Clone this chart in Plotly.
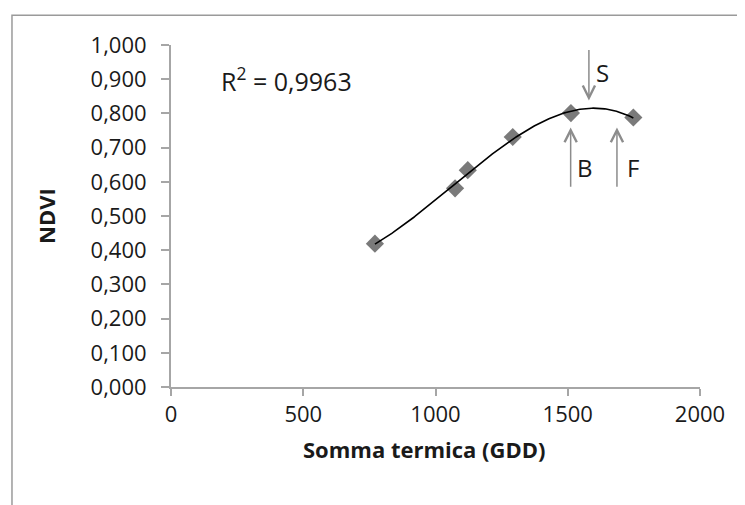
import numpy as np
import plotly.graph_objects as go

# Data
gdd = [771, 1074, 1122, 1292, 1512, 1748]
ndvi = [0.419, 0.581, 0.634, 0.731, 0.801, 0.788]
r2_label = "R<sup>2</sup> = 0,9963"

x_ticks = [0, 500, 1000, 1500, 2000]
x_ticklabels = ["0", "500", "1000", "1500", "2000"]
y_ticks = [i / 10 for i in range(11)]
y_ticklabels = ["0,000", "0,100", "0,200", "0,300", "0,400", "0,500",
                "0,600", "0,700", "0,800", "0,900", "1,000"]
x_title = "Somma termica (GDD)"
y_title = "NDVI"

# Phenological stage markers
stage_names = ["S", "B", "F"]
stage_x = [1580, 1511, 1686]
stage_tail = [0.990, 0.581, 0.581]
stage_tip = [0.838, 0.759, 0.759]
stage_label_x = [1633, 1565, 1747]
stage_label_y = [0.92, 0.642, 0.642]

# Third-order polynomial trendline
coef = np.polyfit(gdd, ndvi, 3)
xs = np.linspace(min(gdd), max(gdd), 200)
ys = np.polyval(coef, xs)

FONT = "Open Sans"
AX = "#a6a6a6"
TXT = "#1a1a1a"

fig = go.Figure()
fig.add_trace(go.Scatter(
    x=gdd, y=ndvi, mode="markers",
    marker=dict(symbol="diamond", size=14, color="#7a7a7a"),
    showlegend=False, hoverinfo="x+y"))
fig.add_trace(go.Scatter(
    x=xs, y=ys, mode="lines",
    line=dict(color="black", width=1.6),
    showlegend=False, hoverinfo="skip"))

annotations = []
for name, sx, tail, tip, lx, ly in zip(stage_names, stage_x, stage_tail, stage_tip,
                                       stage_label_x, stage_label_y):
    annotations.append(dict(
        x=sx, y=tip, ax=sx, ay=tail, xref="x", yref="y", axref="x", ayref="y",
        text="", showarrow=True, arrowhead=5, arrowsize=1.6, arrowwidth=1.5,
        arrowcolor="#8c8c8c"))
    annotations.append(dict(
        x=lx, y=ly, xref="x", yref="y", text=name, showarrow=False,
        font=dict(family=FONT, size=24, color=TXT)))

annotations.append(dict(
    x=0.09, y=0.90, xref="paper", yref="paper", text=r2_label,
    showarrow=False, xanchor="left", yanchor="middle",
    font=dict(family=FONT, size=25, color=TXT)))

# x-axis title (placed slightly left of centre as in the reference)
annotations.append(dict(
    x=0.48, y=-0.182, xref="paper", yref="paper", text="<b>" + x_title + "</b>",
    showarrow=False, xanchor="center", yanchor="middle",
    font=dict(family=FONT, size=22, color=TXT)))

fig.update_layout(
    width=745, height=505,
    margin=dict(l=163, r=53, t=37, b=126),
    paper_bgcolor="white", plot_bgcolor="white",
    font=dict(family=FONT, size=22, color=TXT),
    annotations=annotations,
    shapes=[dict(type="path", xref="paper", yref="paper",
                 path="M -0.3006,-0.40 L -0.3006,1.0868 L 1.2,1.0868",
                 line=dict(color="#9a9a9a", width=1.5))],
)
fig.update_xaxes(
    range=[0, 2000], tickvals=x_ticks, ticktext=x_ticklabels,
    showgrid=False, zeroline=False, showline=True, linecolor=AX, linewidth=2,
    ticks="outside", ticklen=7, tickwidth=2, tickcolor=AX,
    tickfont=dict(family=FONT, size=22, color=TXT), ticklabelstandoff=0)
fig.update_yaxes(
    range=[0, 1.0], tickvals=y_ticks, ticktext=y_ticklabels,
    showgrid=False, zeroline=False, showline=True, linecolor=AX, linewidth=2,
    ticks="outside", ticklen=8, tickwidth=2, tickcolor=AX,
    tickfont=dict(family=FONT, size=22, color=TXT), ticklabelstandoff=10,
    title=dict(text="<b>" + y_title + "</b>", standoff=29,
               font=dict(family=FONT, size=22, color=TXT)))

fig.write_html("out.html")
